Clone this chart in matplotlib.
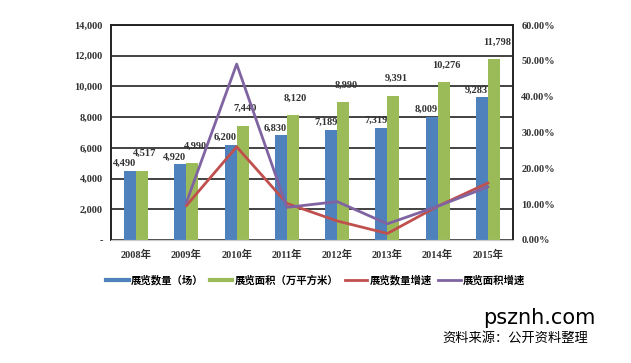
import matplotlib.pyplot as plt
from matplotlib.lines import Line2D
from matplotlib.ticker import FuncFormatter
import numpy as np

years = ["2008年", "2009年", "2010年", "2011年", "2012年", "2013年", "2014年", "2015年"]
count = [4490, 4920, 6200, 6830, 7189, 7319, 8009, 9283]
area = [4517, 4990, 7440, 8120, 8990, 9391, 10276, 11798]
count_growth = [np.nan, 9.6, 26.0, 10.2, 5.3, 1.8, 9.4, 15.9]
area_growth = [np.nan, 10.5, 49.1, 9.1, 10.7, 4.5, 9.4, 14.8]

plt.rcParams['font.family'] = ['Liberation Serif', 'Noto Sans CJK SC']

fig = plt.figure(figsize=(6.31, 3.63), dpi=100)
ax = fig.add_axes([0.176, 0.339, 0.637, 0.592])
ax2 = ax.twinx()

x = np.arange(len(years))
w = 0.24
ax.bar(x - w / 2, count, w, color='#4F81BD', zorder=3)
ax.bar(x + w / 2, area, w, color='#9BBB59', zorder=3)

for i in range(len(years)):
    ax.annotate(f"{count[i]:,}", (x[i] - w / 2, count[i]), xytext=(-4, 2),
                textcoords='offset points', ha='center', va='bottom',
                fontsize=7.5, fontweight='bold', color='#333333', zorder=5)
    ax.annotate(f"{area[i]:,}", (x[i] + w / 2, area[i]), xytext=(2, 9),
                textcoords='offset points', ha='center', va='bottom',
                fontsize=7.5, fontweight='bold', color='#333333', zorder=5)

ax.set_ylim(0, 14000)
ax.set_yticks(range(0, 14001, 2000))
ax.yaxis.set_major_formatter(FuncFormatter(lambda v, p: '-' if v == 0 else f"{int(v):,}"))
ax.set_xlim(-0.5, len(years) - 0.5)
ax.set_xticks(x)
ax.set_xticklabels(years, fontweight='bold')
ax.grid(axis='y', color='#222222', lw=1.2, zorder=0)
ax.set_axisbelow(True)

ax2.plot(x, count_growth, color='#C0504D', lw=2, zorder=4)
ax2.plot(x, area_growth, color='#8064A2', lw=2, zorder=4)
ax2.set_ylim(0, 60)
ax2.set_yticks(range(0, 61, 10))
ax2.yaxis.set_major_formatter(FuncFormatter(lambda v, p: f"{v:.2f}%"))

for a in (ax, ax2):
    a.tick_params(length=0, labelsize=7.5, colors='#333333')
    for s in ['top', 'left', 'right']:
        a.spines[s].set_color('#222222')
        a.spines[s].set_linewidth(1.2)
    a.spines['bottom'].set_color('#cccccc')
    for t in a.get_yticklabels():
        t.set_fontweight('bold')
ax.tick_params(axis='x', pad=7)
ax.tick_params(axis='y', pad=6)
ax2.tick_params(axis='y', pad=6)

handles = [Line2D([], [], color='#4F81BD', lw=3),
           Line2D([], [], color='#9BBB59', lw=3),
           Line2D([], [], color='#C0504D', lw=2),
           Line2D([], [], color='#8064A2', lw=2)]
labels = ["展览数量（场）", "展览面积（万平方米）", "展览数量增速", "展览面积增速"]
fig.legend(handles, labels, loc='center', bbox_to_anchor=(0.5, 0.228), ncol=4,
           frameon=False, handlelength=2.2, handletextpad=0.2, columnspacing=0.6,
           prop={'family': 'Noto Sans CJK SC', 'weight': 'bold', 'size': 7.5})

fig.text(0.943, 0.125, "psznh.com", fontsize=15, ha='right', va='center',
         color='black', family='DejaVu Sans')
fig.text(0.932, 0.068, "资料来源：公开资料整理", fontsize=9.5, ha='right', va='center',
         color='black', family='Noto Sans CJK SC')

fig.savefig('out.png', dpi=100)
